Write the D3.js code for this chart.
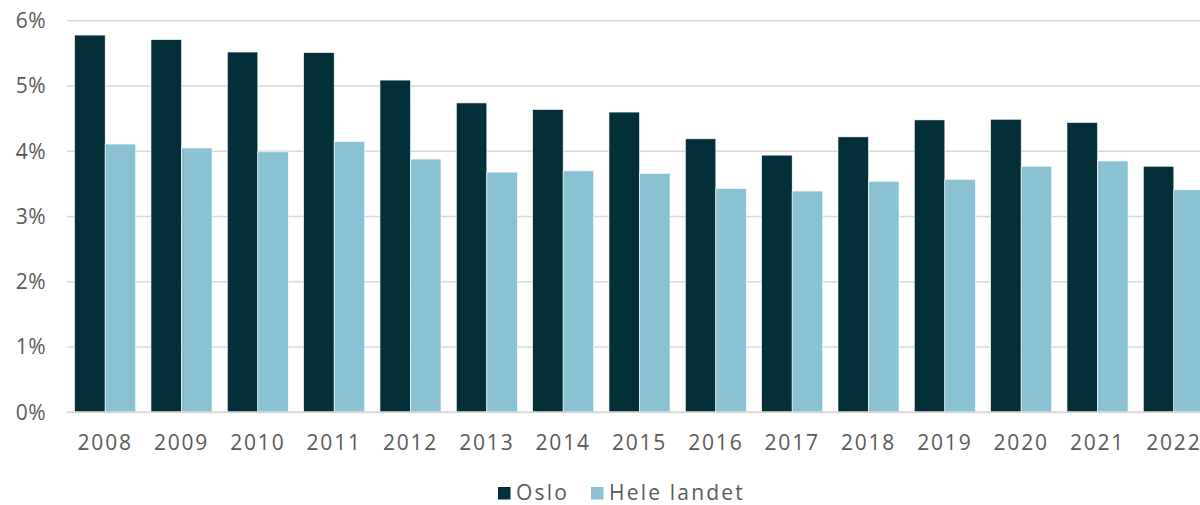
<!DOCTYPE html>
<html>
<head>
<meta charset="utf-8">
<script src="https://cdn.jsdelivr.net/npm/d3@7"></script>
<style>
  html, body { margin: 0; padding: 0; background: #fff; overflow: hidden; }
  svg { display: block; }
  svg text { font-family: "Open Sans", "Noto Sans", sans-serif; fill: #5a5a5a; letter-spacing: 1.8px; }
</style>
</head>
<body>
<svg id="chart"></svg>
<script>
const years = ["2008","2009","2010","2011","2012","2013","2014","2015","2016","2017","2018","2019","2020","2021","2022"]
const oslo = [5.78, 5.71, 5.52, 5.51, 5.09, 4.74, 4.64, 4.60, 4.19, 3.94, 4.22, 4.48, 4.49, 4.44, 3.77]
const heleLandet = [4.11, 4.05, 3.99, 4.15, 3.88, 3.68, 3.70, 3.66, 3.43, 3.39, 3.54, 3.57, 3.77, 3.85, 3.41]
const seriesNames = ["Oslo", "Hele landet"]
const colors = ["#022f38", "#8bc2d3"]
const yTicks = [0, 1, 2, 3, 4, 5, 6]

const width = 1200, height = 505
const plotLeft = 67, plotRight = 1212, plotTop = 20.7, plotBottom = 412.3

const svg = d3.select("#chart").attr("width", width).attr("height", height)

const x = d3.scaleBand().domain(years).range([plotLeft, plotRight]).paddingInner(0.2).paddingOuter(0.1)
const xInner = d3.scaleBand().domain(seriesNames).range([0, x.bandwidth()])
const y = d3.scaleLinear().domain([0, 6]).range([plotBottom, plotTop])

// gridlines
svg.append("g").selectAll("line")
  .data(yTicks.filter(d => d > 0))
  .enter().append("line")
  .attr("x1", plotLeft).attr("x2", width)
  .attr("y1", d => y(d)).attr("y2", d => y(d))
  .attr("stroke", "#d9d9d9").attr("stroke-width", 1.5)

// y labels
svg.append("g").selectAll("text")
  .data(yTicks)
  .enter().append("text")
  .attr("x", 46)
  .attr("y", d => y(d))
  .attr("dy", "0.35em")
  .attr("text-anchor", "end")
  .style("font-size", "21px")
  .style("letter-spacing", "0.5px")
  .text(d => d + "%")

// bars
const rows = years.map((yr, i) => ({ year: yr, vals: [oslo[i], heleLandet[i]] }))
const groups = svg.append("g").selectAll("g")
  .data(rows)
  .enter().append("g")
  .attr("transform", d => "translate(" + x(d.year) + ",0)")

groups.selectAll("rect")
  .data(d => d.vals.map((v, j) => ({ name: seriesNames[j], v: v, j: j })))
  .enter().append("rect")
  .attr("x", d => xInner(d.name))
  .attr("y", d => y(d.v))
  .attr("width", xInner.bandwidth())
  .attr("height", d => plotBottom - y(d.v))
  .attr("fill", d => colors[d.j])
  .attr("stroke", "#ffffff")
  .attr("stroke-width", 0.6)

// baseline
svg.append("line")
  .attr("x1", plotLeft).attr("x2", width)
  .attr("y1", plotBottom).attr("y2", plotBottom)
  .attr("stroke", "#d9d9d9").attr("stroke-width", 2)

// x labels
svg.append("g").selectAll("text")
  .data(years)
  .enter().append("text")
  .attr("x", d => x(d) + x.bandwidth() / 2)
  .attr("y", 443)
  .attr("dy", "0.35em")
  .attr("text-anchor", "middle")
  .style("font-size", "21px")
  .text(d => d)

// legend
const legendX = [498, 591]
const legend = svg.append("g").selectAll("g")
  .data(seriesNames)
  .enter().append("g")
  .attr("transform", (d, i) => "translate(" + legendX[i] + ",493)")
legend.append("rect")
  .attr("x", 0).attr("y", -6)
  .attr("width", 12.5).attr("height", 12.5)
  .attr("fill", (d, i) => colors[i])
legend.append("text")
  .attr("x", 18).attr("dy", "0.35em")
  .style("font-size", "21px")
  .style("letter-spacing", "2.2px")
  .text(d => d)
</script>
</body>
</html>
